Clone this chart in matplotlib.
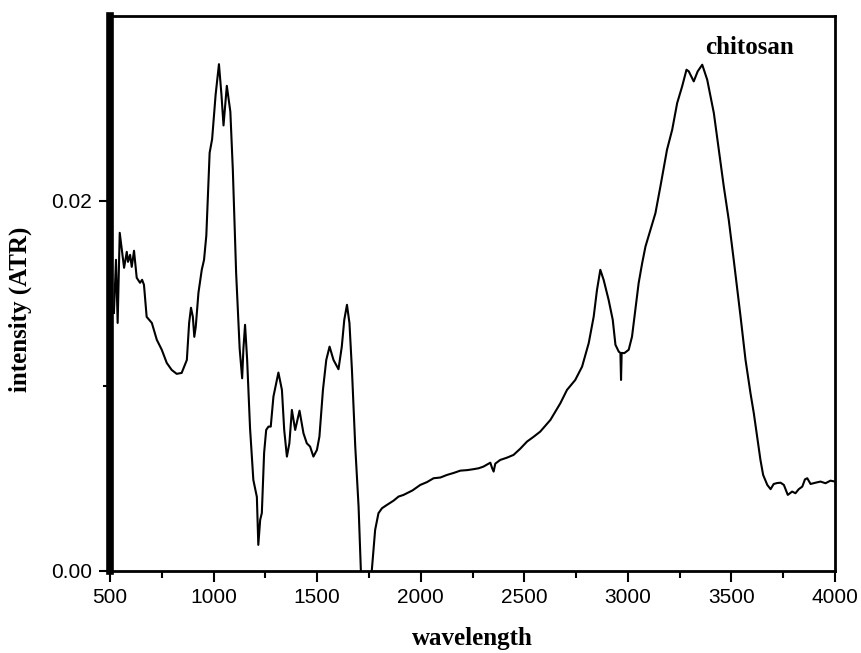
import matplotlib
matplotlib.use("Agg")
import matplotlib.pyplot as plt
from matplotlib.ticker import MultipleLocator, FixedLocator

# wavenumber values
wavelength = [519, 529, 537, 547, 557, 568, 581, 587, 597, 605, 616, 624, 629, 645, 655, 664,
              677, 702, 726, 750, 774, 798, 822, 846, 871, 882, 891, 900, 907, 914, 927, 943,
              954, 965, 981, 993, 1010, 1026, 1038, 1048, 1064, 1081, 1093, 1109, 1126, 1138,
              1144, 1152, 1162, 1176, 1192, 1209, 1216, 1225, 1233, 1244, 1254, 1265, 1276,
              1289, 1313, 1330, 1341, 1354, 1366, 1378, 1394, 1415, 1434, 1450, 1466, 1482,
              1499, 1511, 1528, 1544, 1560, 1579, 1603, 1619, 1631, 1644, 1656, 1668, 1684,
              1700, 1711, 1735, 1764, 1780, 1796, 1813, 1837, 1869, 1893, 1917, 1960, 1998,
              2030, 2062, 2095, 2127, 2160, 2191, 2225, 2255, 2280, 2303, 2336, 2345, 2352,
              2360, 2384, 2416, 2448, 2480, 2513, 2545, 2577, 2626, 2674, 2706, 2746, 2779,
              2811, 2835, 2851, 2867, 2883, 2907, 2927, 2940, 2956, 2964, 2967, 2970, 2983,
              3004, 3020, 3036, 3052, 3069, 3085, 3109, 3133, 3157, 3189, 3214, 3238, 3262,
              3283, 3294, 3318, 3337, 3359, 3383, 3415, 3439, 3463, 3487, 3511, 3544, 3568,
              3592, 3608, 3624, 3640, 3653, 3673, 3689, 3704, 3720, 3737, 3753, 3772, 3793,
              3809, 3825, 3842, 3855, 3866, 3882, 3906, 3930, 3954, 3978, 4000]

# intensity values (x 1e-3)
intensity_milli = [13.94, 16.81, 13.40, 18.27, 17.35, 16.38, 17.24, 16.70, 17.08, 16.43, 17.30,
                   16.43, 15.84, 15.57, 15.73, 15.46, 13.73, 13.40, 12.49, 11.95, 11.24, 10.86,
                   10.65, 10.70, 11.40, 13.40, 14.22, 13.73, 12.65, 13.19, 15.03, 16.27, 16.81,
                   18.12, 22.59, 23.33, 25.74, 27.38, 25.74, 24.07, 26.21, 24.81, 21.67, 16.08,
                   12.00, 10.41, 12.00, 13.30, 11.43, 7.73, 4.92, 4.00, 1.41, 2.76, 3.13, 6.38,
                   7.62, 7.80, 7.80, 9.42, 10.72, 9.78, 7.62, 6.18, 6.90, 8.70, 7.62, 8.66, 7.44,
                   6.90, 6.72, 6.18, 6.54, 7.26, 9.78, 11.40, 12.12, 11.40, 10.90, 12.12, 13.57,
                   14.38, 13.39, 10.86, 6.72, 3.48, 0.05, -3.0, 0.05, 2.22, 3.12, 3.39, 3.57,
                   3.80, 4.02, 4.11, 4.35, 4.65, 4.80, 5.01, 5.05, 5.19, 5.30, 5.42, 5.45, 5.50,
                   5.55, 5.64, 5.85, 5.55, 5.37, 5.80, 6.00, 6.12, 6.27, 6.60, 6.99, 7.25, 7.53,
                   8.16, 9.06, 9.78, 10.32, 11.04, 12.31, 13.74, 15.19, 16.27, 15.73, 14.65,
                   13.57, 12.22, 11.85, 11.78, 10.32, 11.78, 11.77, 11.95, 12.66, 14.11, 15.55,
                   16.63, 17.53, 18.43, 19.33, 20.77, 22.76, 23.84, 25.28, 26.18, 27.08, 26.99,
                   26.45, 26.99, 27.35, 26.54, 24.74, 22.76, 20.77, 18.97, 16.81, 13.74, 11.40,
                   9.60, 8.52, 7.26, 6.00, 5.19, 4.65, 4.42, 4.70, 4.75, 4.77, 4.65, 4.11, 4.29,
                   4.20, 4.42, 4.56, 4.95, 5.01, 4.70, 4.77, 4.83, 4.74, 4.88, 4.83]

intensity = [v * 1e-3 for v in intensity_milli]

x_ticks = [500, 1000, 1500, 2000, 2500, 3000, 3500, 4000]
y_ticks = [0.00, 0.02]
y_tick_labels = ["0.00", "0.02"]

fig = plt.figure(figsize=(8.62, 6.53), dpi=100)
ax = fig.add_axes([0.1276, 0.1256, 0.8411, 0.8504])

ax.plot(wavelength, intensity, color="black", lw=1.5)

ax.set_xlim(500, 4000)
ax.set_ylim(0, 0.030)

ax.xaxis.set_major_locator(FixedLocator(x_ticks))
ax.xaxis.set_minor_locator(MultipleLocator(250))
ax.yaxis.set_major_locator(FixedLocator(y_ticks))
ax.set_yticklabels(y_tick_labels)
ax.yaxis.set_minor_locator(FixedLocator([0.01]))

ax.tick_params(axis="both", which="major", direction="out", width=1.5, labelsize=15)
ax.tick_params(axis="x", which="major", length=8, pad=4)
ax.tick_params(axis="y", which="major", length=8, pad=5)
ax.tick_params(axis="both", which="minor", direction="out", width=1.5, length=5)
for lab in ax.get_xticklabels() + ax.get_yticklabels():
    lab.set_fontfamily(["Liberation Sans", "DejaVu Sans"])

for side in ["top", "right", "bottom"]:
    ax.spines[side].set_linewidth(2)
ax.spines["left"].set_linewidth(5.5)

serif = ["Liberation Serif", "DejaVu Serif"]
fig.text(0.5485, 1 - 638 / 653, "wavelength", ha="center", va="center",
         fontsize=18, fontweight="bold", family=serif)
fig.text(20 / 862, 1 - 309 / 653, "intensity (ATR)", ha="center", va="center",
         rotation=90, fontsize=18, fontweight="bold", family=serif)
fig.text(750 / 862, 1 - 48 / 653, "chitosan", ha="center", va="center",
         fontsize=18, fontweight="bold", family=serif)

fig.savefig("out.png", dpi=100)
